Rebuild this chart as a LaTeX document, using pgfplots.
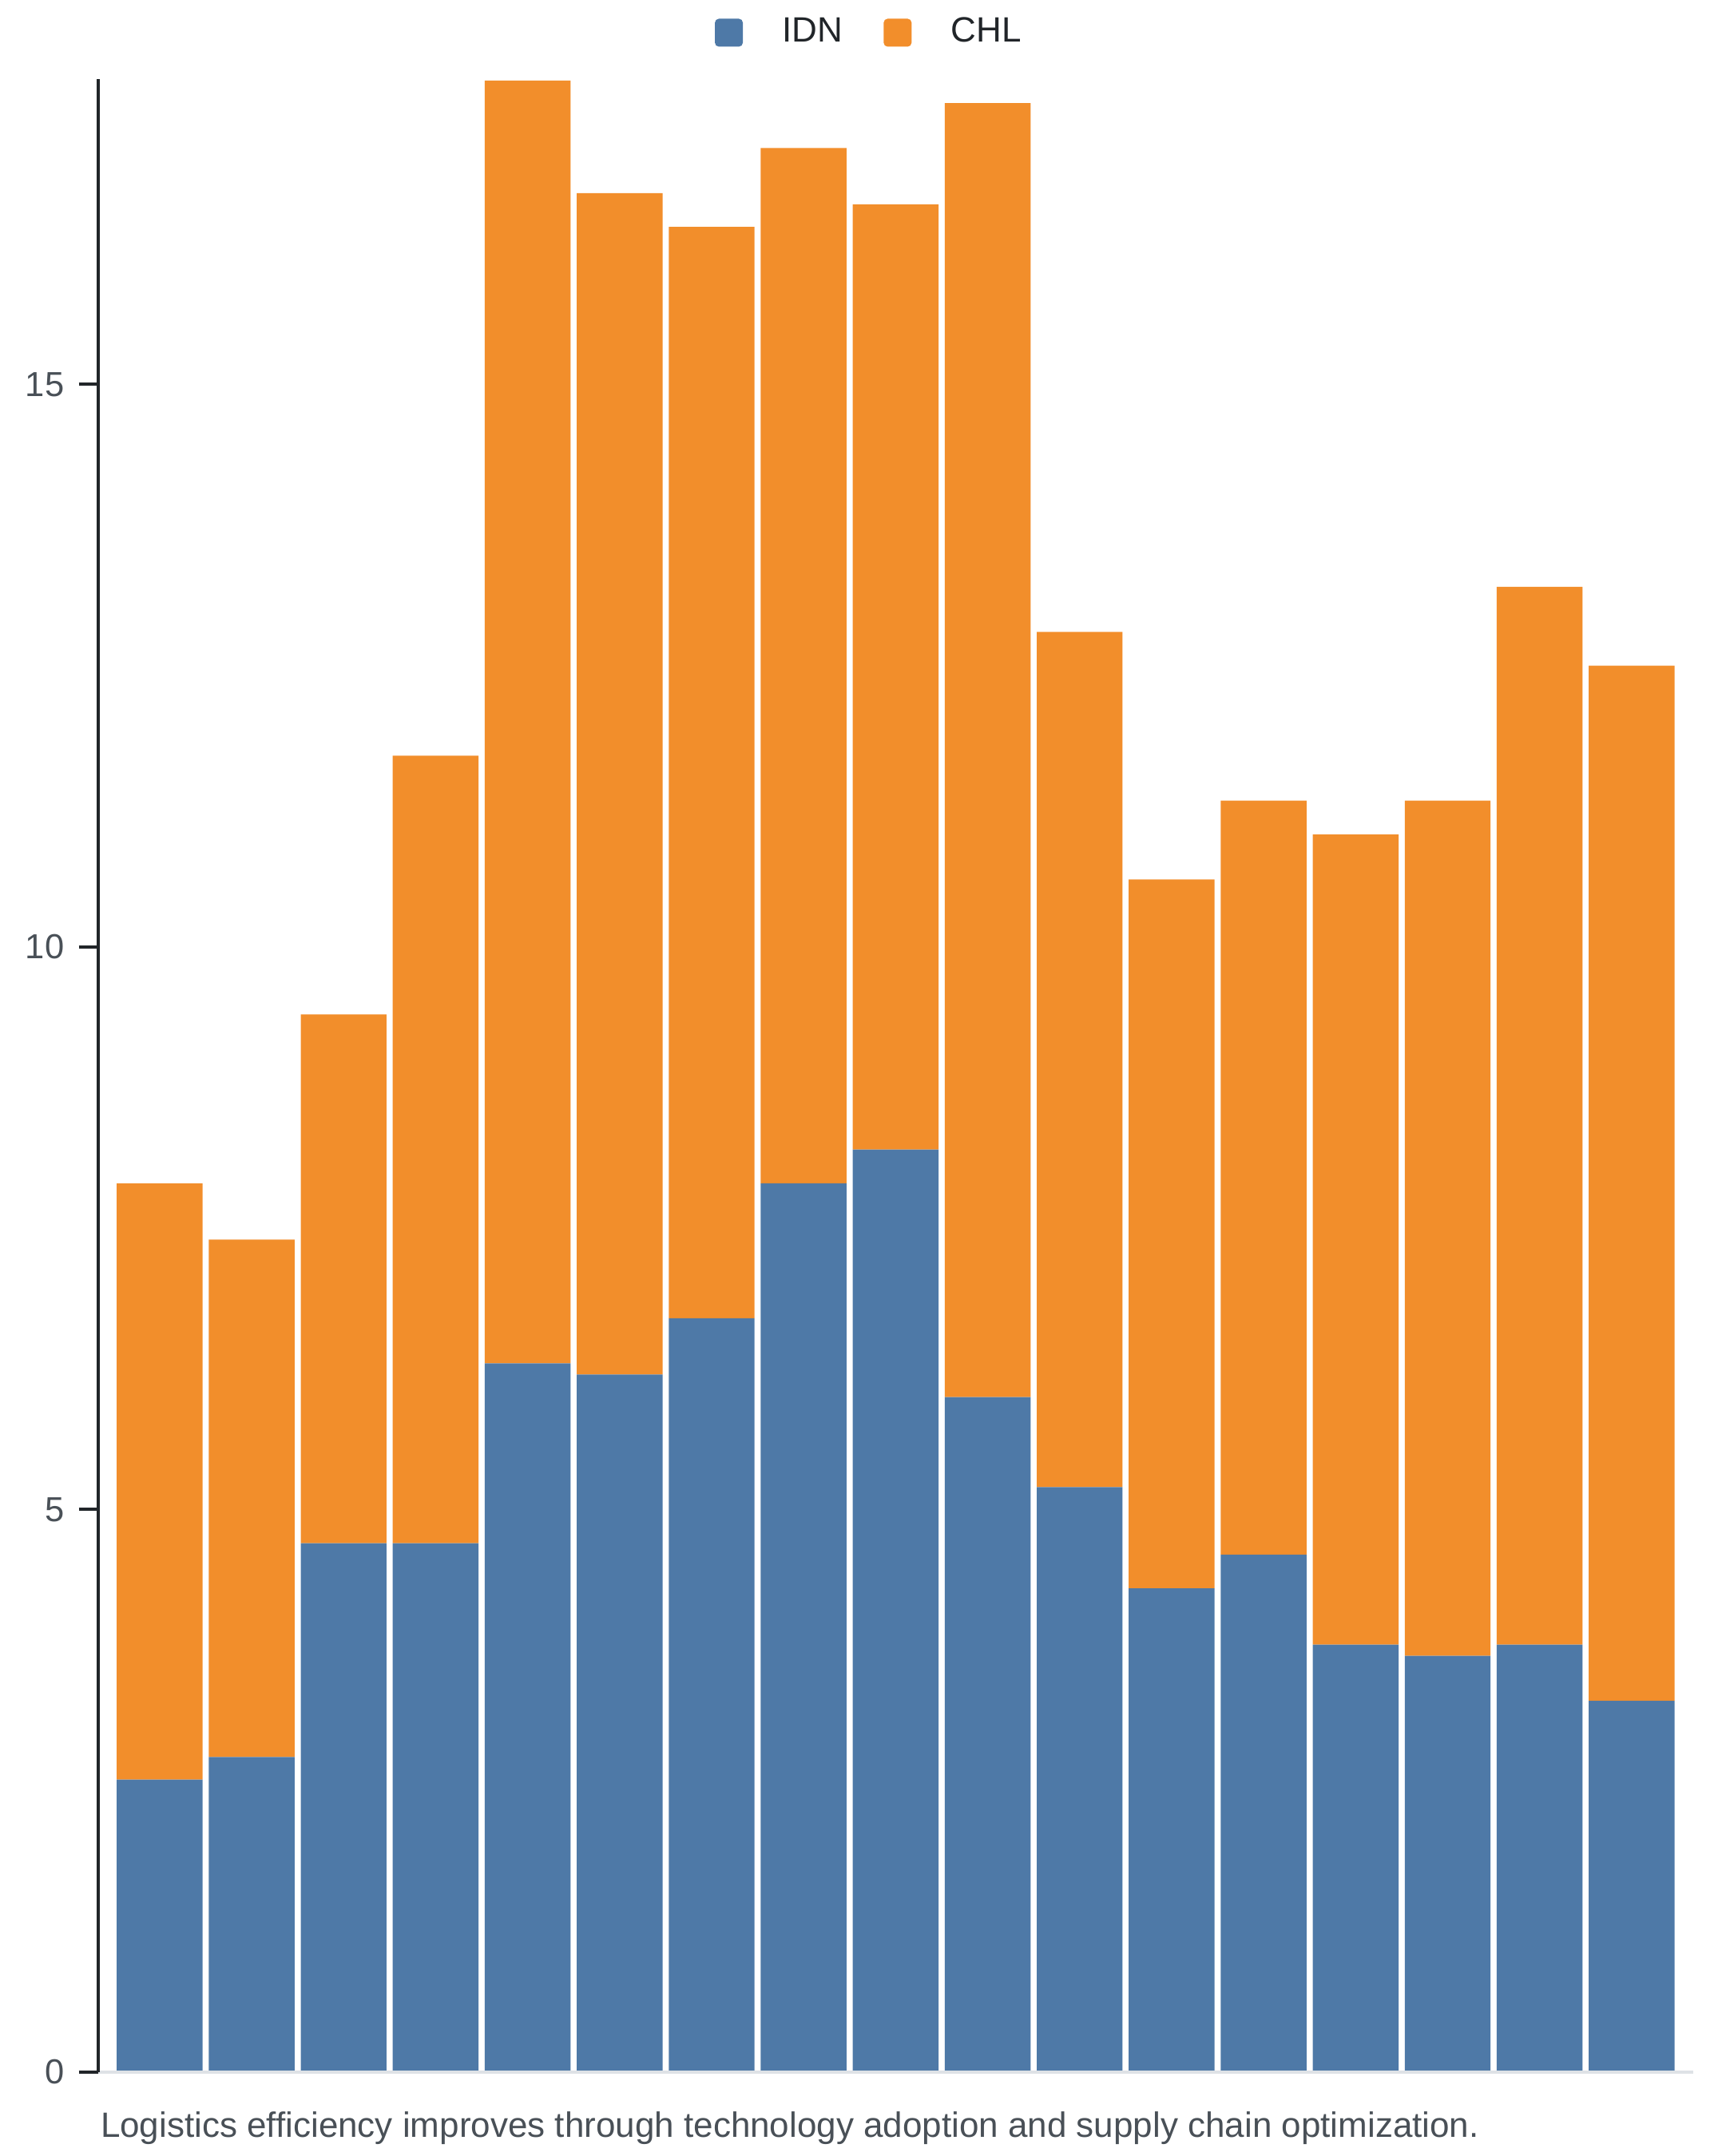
\documentclass[border=0pt]{standalone}
\usepackage{fontspec}
\setmainfont{Liberation Sans}
\usepackage{pgfplots}
\pgfplotsset{compat=1.18}
\usepackage{pgfplotstable}
\definecolor{cidn}{HTML}{4E79A7}
\definecolor{cchl}{HTML}{F28E2B}
\definecolor{axdark}{HTML}{212529}
\definecolor{axgray}{HTML}{DEE2E6}
\definecolor{tickgray}{HTML}{495057}

\pgfplotsset{sqlegend/.style={legend image code/.code={\fill[rounded corners=1pt,##1] (0pt,-3.5pt) rectangle (7pt,3.5pt);}}}

\pgfplotstableread{
x idn chl
0 2.6 5.3
1 2.8 4.6
2 4.7 4.7
3 4.7 7.0
4 6.3 11.4
5 6.2 10.5
6 6.7 9.7
7 7.9 9.2
8 8.2 8.4
9 6.0 11.5
10 5.2 7.6
11 4.3 6.3
12 4.6 6.7
13 3.8 7.2
14 3.7 7.6
15 3.8 9.4
16 3.3 9.2
}\datatable

\begin{document}
\begin{tikzpicture}
\path[use as bounding box] (0,0) rectangle (432pt,540pt);
\begin{axis}[
  at={(24.54pt,21pt)}, anchor=south west,
  scale only axis, width=399.46pt, height=499.1pt,
  xmin=-0.67, xmax=16.67, ymin=0, ymax=17.71,
  ybar stacked, bar width=0.933,
  axis x line*=bottom, axis y line*=left,
  x axis line style={axgray, line width=0.9pt, -},
  y axis line style={axdark, line width=0.8pt, -},
  xtick=\empty,
  ytick={0,5,10,15},
  tick align=outside, major tick length=4.8pt,
  ytick style={axdark, line width=0.8pt},
  yticklabel style={font=\fontsize{8.7}{10}\selectfont, text=tickgray, inner sep=0pt, xshift=-3.5pt},
  /pgf/number format/assume math mode=true,
  axis on top,
  legend style={at={(0.3867,1.0158)}, anchor=south west, draw=none, fill=none,
    inner sep=0pt, outer sep=0pt, legend columns=-1,
    font=\fontsize{8.8}{10}\selectfont, text=axdark,
    /tikz/every odd column/.append style={column sep=9.9pt},
    /tikz/every even column/.append style={column sep=10.2pt},
    nodes={inner sep=0pt}},
  sqlegend,
]
\addplot[fill=cidn, draw=none, sqlegend] table[x=x, y=idn] {\datatable};
\addlegendentry{IDN}
\addplot[fill=cchl, draw=none, sqlegend] table[x=x, y=chl] {\datatable};
\addlegendentry{CHL}
\end{axis}
\node[anchor=base west, inner sep=0pt, text=tickgray, font=\fontsize{8.8}{10}\selectfont] at (25pt,4.6pt) {Logistics efficiency improves through technology adoption and supply chain optimization.};
\end{tikzpicture}
\end{document}
